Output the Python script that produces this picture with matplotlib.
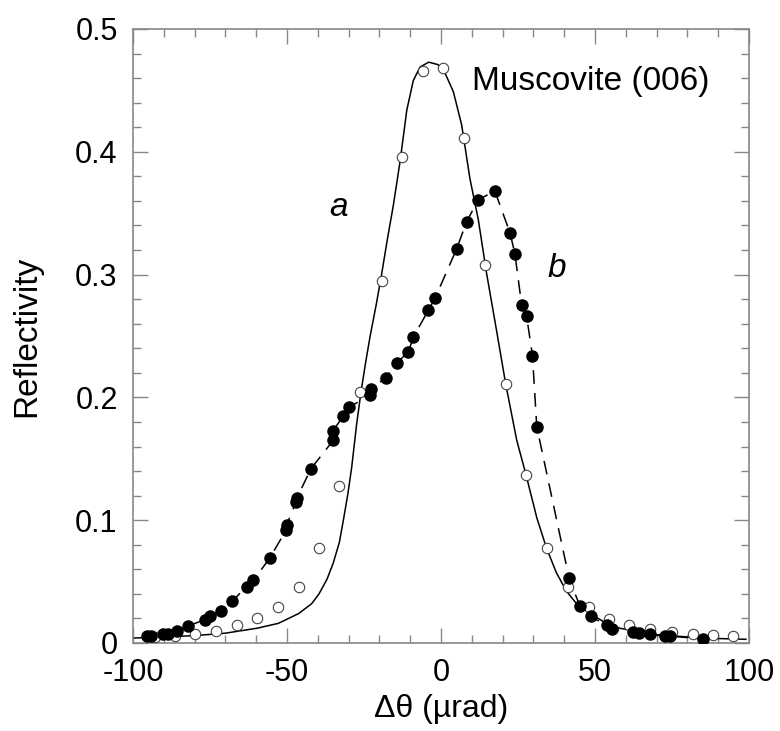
import matplotlib
matplotlib.use("Agg")
import matplotlib.pyplot as plt
from matplotlib.ticker import MultipleLocator

plt.rcParams['font.family'] = ['Liberation Sans', 'DejaVu Sans']

# Curve a: theoretical (solid line)
curve_a_x = [-100, -80, -70, -59.8, -52.8, -46.2, -42, -39.6, -37, -35, -33, -31.7, -30.2, -29,
             -27.4, -26, -24.5, -23, -21, -19.3, -17.4, -15.5, -13.3, -11.1, -9, -6.8, -4, -1, 1.5,
             4, 6.7, 9.4, 12.1, 14.8, 18, 21, 24.6, 27.6, 31.1, 34.3, 37.5, 40.8, 44, 48.4,
             53, 58.1, 68.9, 85, 99]
curve_a_y = [0.004, 0.006, 0.008, 0.012, 0.016, 0.024, 0.032, 0.040, 0.052, 0.065, 0.082, 0.100,
             0.122, 0.143, 0.178, 0.204, 0.228, 0.250, 0.276, 0.300, 0.329, 0.356, 0.392, 0.434,
             0.458, 0.469, 0.473, 0.471, 0.463, 0.449, 0.422, 0.378, 0.345, 0.301, 0.255, 0.211,
             0.165, 0.137, 0.102, 0.077, 0.057, 0.042, 0.032, 0.024, 0.017, 0.012, 0.007, 0.004,
             0.003]

# Series a: open circles
a_x = [-93, -86.4, -79.9, -73.1, -66.3, -59.8, -52.8, -46.2, -39.6, -33, -26.4, -19.3,
       -12.6, -6.0, 0.8, 7.6, 14.4, 21, 27.6, 34.3, 41.1, 48.1, 54.5, 61.1, 67.9, 74.9,
       81.7, 88.2, 94.9]
a_y = [0.005, 0.0055, 0.0077, 0.0098, 0.0145, 0.020, 0.029, 0.046, 0.077, 0.128, 0.204,
       0.295, 0.396, 0.466, 0.468, 0.411, 0.308, 0.211, 0.137, 0.077, 0.046, 0.029, 0.0197,
       0.0145, 0.011, 0.009, 0.0072, 0.0069, 0.0057]

# Series b: filled circles (dashed line)
b_x = [-95.6, -94, -90.2, -88.5, -85.6, -82, -76.6, -75, -71.5, -67.8, -63.1, -60.9,
       -55.5, -50.3, -50.1, -47.1, -46.8, -42.2, -35, -35, -31.7, -29.8, -23, -22.8,
       -17.9, -14.4, -10.6, -9, -4.1, -1.9, 5.1, 8.3, 12.1, 17.5, 22.4, 24, 26.2, 27.8,
       29.7, 31.1, 41.6, 45.1, 48.6, 53.8, 55.4, 62.4, 64.3, 67.7, 72.7, 74.4, 85.2]
b_y = [0.006, 0.006, 0.0077, 0.0077, 0.010, 0.014, 0.019, 0.022, 0.026, 0.034, 0.046, 0.051,
       0.0695, 0.092, 0.096, 0.115, 0.118, 0.142, 0.165, 0.173, 0.185, 0.192, 0.202, 0.207,
       0.216, 0.228, 0.237, 0.249, 0.271, 0.281, 0.321, 0.343, 0.361, 0.368, 0.334, 0.317,
       0.275, 0.266, 0.234, 0.176, 0.0526, 0.030, 0.0217, 0.0143, 0.011, 0.0088, 0.008,
       0.007, 0.0055, 0.0055, 0.0034]

x_ticks = [-100, -50, 0, 50, 100]
x_ticklabels = ['-100', '-50', '0', '50', '100']
y_ticks = [0, 0.1, 0.2, 0.3, 0.4, 0.5]
y_ticklabels = ['0', '0.1', '0.2', '0.3', '0.4', '0.5']

fig = plt.figure(figsize=(7.8, 7.31), dpi=100)
ax = fig.add_axes([133/780, 88/731, 616/780, 614/731])

ax.plot(curve_a_x, curve_a_y, color='black', lw=1.1, zorder=2)
ax.plot(b_x, b_y, color='black', lw=1.1, ls=(0, (9, 6)), zorder=2)
ax.plot(a_x, a_y, ls='none', marker='o', ms=7.5, mfc='white', mec='#444444', mew=0.8, zorder=3)
ax.plot(b_x, b_y, ls='none', marker='o', ms=8, mfc='black', mec='black', zorder=4)

ax.set_xlim(-100, 100)
ax.set_ylim(0, 0.5)
ax.set_xticks(x_ticks)
ax.set_xticklabels(x_ticklabels)
ax.set_yticks(y_ticks)
ax.set_yticklabels(y_ticklabels)
ax.xaxis.set_minor_locator(MultipleLocator(10))
ax.yaxis.set_minor_locator(MultipleLocator(0.02))

for s in ax.spines.values():
    s.set_color('#888888')
    s.set_linewidth(1.2)
ax.tick_params(which='both', direction='in', top=True, right=True, color='#888888', width=1.0)
ax.tick_params(which='major', length=11, labelsize=22)
ax.tick_params(axis='x', which='major', pad=11)
ax.tick_params(axis='y', which='major', pad=11)
ax.tick_params(which='minor', length=6)

ax.set_xlabel('\u0394\u03b8 (\u00b5rad)', fontsize=23, labelpad=4)
ax.set_ylabel('Reflectivity', fontsize=24, labelpad=24)

ax.text(10, 0.457, 'Muscovite (006)', fontsize=24, ha='left', va='center')
ax.text(-33.4, 0.355, 'a', fontsize=24, style='italic', ha='center', va='center')
ax.text(37.6, 0.305, 'b', fontsize=24, style='italic', ha='center', va='center')

fig.savefig('out.png', dpi=100)
